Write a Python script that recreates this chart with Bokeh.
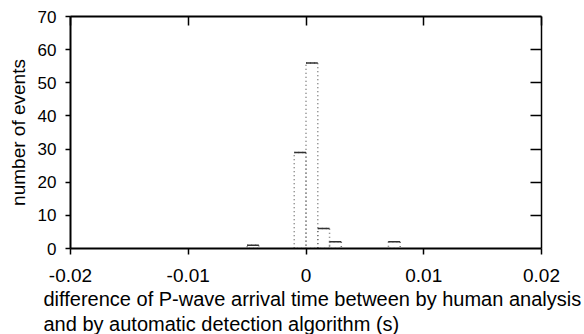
from bokeh.plotting import figure
from bokeh.models import Range1d, FixedTicker, LinearAxis, Title
from bokeh.embed import file_html
from bokeh.resources import INLINE

# histogram data (bin edges in seconds, counts)
bin_left = [-0.005, -0.001, 0.0, 0.001, 0.002, 0.007]
bin_right = [-0.004, 0.0, 0.001, 0.002, 0.003, 0.008]
counts = [1, 29, 56, 6, 2, 2]

x_ticks = [-0.02, -0.01, 0.0, 0.01, 0.02]
x_tick_labels = ["-0.02", "-0.01", "0", "0.01", "0.02"]
y_ticks = [0, 10, 20, 30, 40, 50, 60, 70]

FONT = "Liberation Sans"

p = figure(width=584, height=334, output_backend="svg", toolbar_location=None,
           x_range=Range1d(-0.02, 0.02), y_range=Range1d(0, 70),
           min_border_left=70, min_border_right=43, min_border_top=16,
           min_border_bottom=0)
p.outline_line_color = None
p.xgrid.visible = False
p.ygrid.visible = False
p.background_fill_color = "white"
p.border_fill_color = "white"

p.quad(left=bin_left, right=bin_right, top=counts, bottom=[0] * len(counts),
       fill_color=None, line_color="#777777", line_dash="1 3", line_width=1.5)
p.segment(x0=bin_left, x1=bin_right, y0=counts, y1=counts,
          line_color="#333333", line_width=1.5)

# bottom axis
xa = p.xaxis[0]
xa.ticker = FixedTicker(ticks=x_ticks)
xa.major_label_overrides = {t: s for t, s in zip(x_ticks, x_tick_labels)}
xa.minor_tick_line_color = None
xa.major_tick_out = 6
xa.major_tick_in = 0
xa.major_label_standoff = 14
xa.major_label_text_font = FONT
xa.major_label_text_font_size = "19px"
xa.major_label_text_color = "black"
xa.axis_line_width = 2
xa.major_tick_line_width = 1.5
xa.axis_label = None

# left axis
ya = p.yaxis[0]
ya.ticker = FixedTicker(ticks=y_ticks)
ya.minor_tick_line_color = None
ya.major_tick_out = 5
ya.major_tick_in = 0
ya.major_label_standoff = 9
ya.major_label_text_font = FONT
ya.major_label_text_font_size = "17px"
ya.major_label_text_color = "black"
ya.axis_line_width = 2
ya.major_tick_line_width = 1.5
ya.axis_label = "number of events"
ya.axis_label_text_font = FONT
ya.axis_label_text_font_size = "19px"
ya.axis_label_text_font_style = "normal"
ya.axis_label_text_color = "black"
ya.axis_label_standoff = 6

# top axis (no labels, ticks inward)
top = LinearAxis(ticker=FixedTicker(ticks=x_ticks),
                 major_label_overrides={t: "" for t in x_ticks},
                 major_tick_in=9, major_tick_out=0, minor_tick_line_color=None,
                 axis_line_width=2, major_tick_line_width=1.5, major_label_standoff=0)
p.add_layout(top, "above")

# right axis (no labels, ticks inward)
right = LinearAxis(ticker=FixedTicker(ticks=y_ticks[1:-1]),
                   major_label_overrides={t: "" for t in y_ticks[1:-1]},
                   major_tick_in=11, major_tick_out=0, minor_tick_line_color=None,
                   axis_line_width=1.5, major_tick_line_width=1.5, major_label_standoff=0)
p.add_layout(right, "right")

# two-line x label, left aligned
t1 = Title(text="difference of P-wave arrival time between by human analysis",
           align="left", offset=-27, text_font=FONT, text_font_size="20px",
           text_font_style="normal", text_color="black", standoff=2)
t2 = Title(text="and by automatic detection algorithm (s)",
           align="left", offset=-27, text_font=FONT, text_font_size="20px",
           text_font_style="normal", text_color="black", standoff=0)
p.add_layout(t1, "below")
p.add_layout(t2, "below")

open("out.html", "w").write(file_html(p, INLINE))
